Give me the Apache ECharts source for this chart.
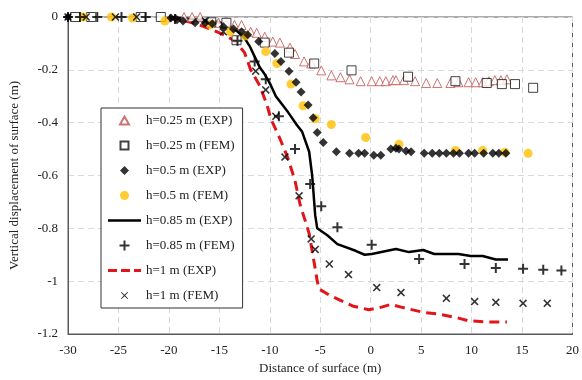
<!DOCTYPE html>
<html>
<head>
<meta charset="utf-8">
<script src="https://cdn.jsdelivr.net/npm/echarts@6/dist/echarts.min.js"></script>
<style>
  html, body { margin: 0; padding: 0; background: #fff; }
  #chart { width: 582px; height: 380px; }
</style>
</head>
<body>
<div id="chart"></div>
<script>
// x: distance of surface (m), y: vertical displacement (m)
const xTicks = [-30, -25, -20, -15, -10, -5, 0, 5, 10, 15, 20];
const yTicks = [0, -0.2, -0.4, -0.6, -0.8, -1, -1.2];

const h025Exp = [
  [-18.5, 0], [-17.7, 0], [-16.9, 0], [-15.1, -0.022], [-14.3, -0.026], [-13.5, -0.03],
  [-12.8, -0.03], [-11.9, -0.056], [-11.3, -0.06], [-10.5, -0.075], [-9.7, -0.093],
  [-9.0, -0.097], [-8.0, -0.116], [-7.5, -0.14], [-6.6, -0.168], [-5.9, -0.176],
  [-4.9, -0.202], [-3.9, -0.221], [-3.0, -0.228], [-2.1, -0.236], [-1.0, -0.243],
  [0.1, -0.243], [0.9, -0.243], [1.5, -0.243], [2.2, -0.239], [2.5, -0.239],
  [3.3, -0.239], [4.4, -0.243], [5.5, -0.25], [6.6, -0.25], [7.9, -0.25],
  [8.7, -0.247], [9.7, -0.247], [10.4, -0.247], [11.1, -0.247], [11.7, -0.243],
  [12.3, -0.239], [12.9, -0.239], [13.5, -0.236]
];
const h025Fem = [
  [-29.3, 0], [-27.7, 0], [-22.8, 0], [-20.8, 0], [-15.8, -0.02], [-14.3, -0.022],
  [-13.3, -0.088], [-10.5, -0.097], [-8.1, -0.135], [-5.6, -0.176], [-1.9, -0.202],
  [3.7, -0.226], [8.4, -0.243], [11.5, -0.25], [13.0, -0.254], [14.3, -0.254], [16.1, -0.268]
];
const h05Exp = [
  [-30, 0], [-19.8, -0.004], [-19.2, -0.01], [-18.6, -0.015], [-17.4, -0.022], [-16.4, -0.022],
  [-15.7, -0.026], [-14.6, -0.037], [-13.6, -0.045], [-12.8, -0.056], [-12.2, -0.067],
  [-11.1, -0.093], [-9.5, -0.138], [-8.9, -0.168], [-8.1, -0.205], [-7.4, -0.247],
  [-6.9, -0.284], [-6.2, -0.333], [-5.7, -0.381], [-5.3, -0.437], [-4.7, -0.475],
  [-3.4, -0.51], [-2.1, -0.516], [-1.2, -0.516], [-0.6, -0.516], [0.3, -0.523], [1.0, -0.523],
  [2.0, -0.5], [2.5, -0.497], [2.8, -0.5], [3.5, -0.507], [4.0, -0.51], [5.3, -0.516],
  [6.1, -0.516], [6.8, -0.516], [7.5, -0.516], [8.2, -0.516], [8.8, -0.516], [9.7, -0.516],
  [10.3, -0.516], [11.2, -0.516], [12.1, -0.516], [12.7, -0.516], [13.4, -0.516]
];
const h05Fem = [
  [-28.5, 0], [-25.7, 0], [-23.6, -0.004], [-20.4, -0.015], [-15.9, -0.03], [-13.9, -0.056],
  [-12.4, -0.071], [-10.4, -0.131], [-9.3, -0.176], [-7.9, -0.254], [-6.7, -0.336],
  [-5.5, -0.385], [-3.9, -0.407], [-0.5, -0.456], [2.8, -0.482], [8.4, -0.505],
  [11.1, -0.505], [13.3, -0.512], [15.6, -0.516]
];
const h085Exp = [
  [-20, 0], [-17, -0.01], [-15, -0.02], [-14, -0.035], [-13.2, -0.055], [-12.5, -0.08],
  [-12, -0.11], [-11.5, -0.15], [-11, -0.19], [-10.5, -0.217], [-9.9, -0.258], [-9.4, -0.3],
  [-8.2, -0.36], [-7.3, -0.41], [-6.8, -0.434], [-6.1, -0.51], [-5.8, -0.6], [-5.5, -0.75],
  [-5.3, -0.8], [-4.3, -0.826], [-3.3, -0.86], [-1.5, -0.885], [-0.6, -0.9], [0.1, -0.897],
  [2.5, -0.878], [3.8, -0.89], [5.2, -0.882], [6.3, -0.897], [8.7, -0.897], [9.9, -0.905],
  [11.1, -0.905], [12.4, -0.918], [13.6, -0.918]
];
const h085Fem = [
  [-30, 0], [-28.8, 0], [-27.1, 0], [-24.7, 0], [-22.3, 0], [-19.4, -0.008],
  [-13.2, -0.09], [-11.5, -0.168], [-10.4, -0.236], [-9.1, -0.376], [-7.5, -0.5],
  [-6.0, -0.632], [-4.9, -0.716], [-3.3, -0.796], [0.1, -0.862], [4.8, -0.916],
  [9.3, -0.935], [12.4, -0.95], [15.1, -0.953], [17.1, -0.957], [18.9, -0.96]
];
const h1Exp = [
  [-20, 0], [-18.3, -0.015], [-17, -0.03], [-15.6, -0.05], [-14.4, -0.07], [-13.4, -0.093],
  [-12.5, -0.135], [-11.9, -0.2], [-11, -0.26], [-10.3, -0.33], [-9.9, -0.385], [-9, -0.46],
  [-8.2, -0.535], [-7.5, -0.62], [-7, -0.71], [-6.5, -0.77], [-6.1, -0.82], [-5.6, -0.93],
  [-5.3, -1.0], [-5.1, -1.03], [-4.0, -1.055], [-1.7, -1.095], [-0.2, -1.108], [0.9, -1.1],
  [2.0, -1.088], [3.2, -1.1], [5.2, -1.118], [6.8, -1.125], [8.7, -1.14], [9.7, -1.15],
  [11.7, -1.155], [13.5, -1.155]
];
const h1Fem = [
  [-30, 0], [-28.2, 0], [-25.3, 0], [-23.2, 0], [-19.6, -0.004], [-16.4, -0.015],
  [-14.6, -0.056], [-11.4, -0.205], [-10.4, -0.276], [-9.4, -0.376], [-8.5, -0.53],
  [-7.1, -0.677], [-5.9, -0.84], [-5.5, -0.88], [-4.1, -0.935], [-2.2, -0.975],
  [0.6, -1.024], [3.0, -1.043], [7.5, -1.065], [10.3, -1.077], [12.4, -1.08],
  [15.1, -1.084], [17.5, -1.084]
];

const serif = '"Liberation Serif", "DejaVu Serif", serif';
const plusPath = 'path://M4,0h2v4h4v2h-4v4h-2v-4h-4v-2h4z';
const xPath = 'path://M1.4,0L5,3.6L8.6,0L10,1.4L6.4,5L10,8.6L8.6,10L5,6.4L1.4,10L0,8.6L3.6,5L0,1.4z';

// legend icons drawn inside a 33 x 10 box (two tiny corner points fix the box)
const box = 'path://M0,0h0.01M33,10h-0.01';
const iconTri = box + 'M16.5,1L21,9H12z';
const iconRect = box + 'M12.5,1h8v8h-8z';
const iconDiamond = box + 'M16.5,0.5L21,5L16.5,9.5L12,5z';
const iconCircle = box + 'M16.5,0.5A4.5,4.5 0 1 1 16.49,0.5z';
const iconPlus = box + 'M15.5,0h2v4h4v2h-4v4h-2v-4h-4v-2h4z';
const iconX = box + 'M13.6,1.4L16.5,4.3L19.4,1.4L20.1,2.1L17.2,5L20.1,7.9L19.4,8.6L16.5,5.7L13.6,8.6L12.9,7.9L15.8,5L12.9,2.1z';

const chart = echarts.init(document.getElementById('chart'));

const option = {
  animation: false,
  textStyle: { fontFamily: serif },
  grid: {
    left: 67, right: 5, top: 17, bottom: 42,
    show: true, borderColor: '#595959', borderWidth: 1
  },
  legend: {
    orient: 'vertical',
    left: 101, top: 108,
    padding: [6, 8, 6, 6],
    itemWidth: 33, itemHeight: 10, itemGap: 12,
    backgroundColor: '#fff',
    borderColor: '#333', borderWidth: 1,
    textStyle: { fontFamily: serif, fontSize: 13, color: '#222' },
    data: [
      { name: 'h=0.25 m (EXP)', icon: iconTri },
      { name: 'h=0.25 m (FEM)', icon: iconRect },
      { name: 'h=0.5 m (EXP)', icon: iconDiamond },
      { name: 'h=0.5 m (FEM)', icon: iconCircle },
      { name: 'h=0.85 m (EXP)', icon: box + 'M0,3.8h33v2.5h-33z' },
      { name: 'h=0.85 m (FEM)', icon: iconPlus },
      { name: 'h=1 m (EXP)', icon: box + 'M0,3.5h9v3h-9zM13,3.5h9v3h-9zM26,3.5h7v3h-7z' },
      { name: 'h=1 m (FEM)', icon: iconX }
    ]
  },
  xAxis: {
    type: 'value', min: -30, max: 20, interval: 5,
    axisLine: { onZero: false, lineStyle: { color: '#595959' } },
    axisTick: { show: false },
    axisLabel: { fontFamily: serif, fontSize: 13, color: '#222', margin: 10 },
    splitLine: { lineStyle: { color: '#d9d9d9', type: [6, 4] } },
    name: 'Distance of surface (m)', nameLocation: 'middle', nameGap: 28,
    nameTextStyle: { fontFamily: serif, fontSize: 13, color: '#222' }
  },
  yAxis: {
    type: 'value', min: -1.2, max: 0, interval: 0.2,
    axisLine: { onZero: false, lineStyle: { color: '#595959' } },
    axisTick: { show: false },
    axisLabel: { fontFamily: serif, fontSize: 13, color: '#222', margin: 10,
      formatter: v => yTicks.includes(+v.toFixed(1)) ? String(+v.toFixed(1)) : '' },
    splitLine: { lineStyle: { color: '#d9d9d9', type: [6, 4] } },
    name: 'Vertical displacement of surface (m)', nameLocation: 'middle', nameGap: 47,
    nameTextStyle: { fontFamily: serif, fontSize: 13, color: '#222' }
  },
  series: [
    {
      name: 'h=0.85 m (EXP)', type: 'line', data: h085Exp, symbol: 'none',
      lineStyle: { color: '#000', width: 2.5 }, itemStyle: { color: '#000' }, z: 2
    },
    {
      name: 'h=1 m (EXP)', type: 'line', data: h1Exp, symbol: 'none',
      lineStyle: { color: '#e0161b', width: 3, type: [10, 6] }, itemStyle: { color: '#e0161b' }, z: 2
    },
    {
      name: 'h=0.25 m (EXP)', type: 'scatter', data: h025Exp, symbol: 'triangle', symbolSize: 9,
      itemStyle: { color: '#fff', borderColor: '#c0504d', borderWidth: 1 }, z: 3
    },
    {
      name: 'h=0.25 m (FEM)', type: 'scatter', data: h025Fem, symbol: 'rect', symbolSize: 9,
      itemStyle: { color: '#fff', borderColor: '#111', borderWidth: 1 }, z: 3
    },
    {
      name: 'h=0.5 m (EXP)', type: 'scatter', data: h05Exp, symbol: 'diamond', symbolSize: 9,
      itemStyle: { color: '#000' }, z: 4
    },
    {
      name: 'h=0.5 m (FEM)', type: 'scatter', data: h05Fem, symbol: 'circle', symbolSize: 9,
      itemStyle: { color: '#ffc000' }, z: 3
    },
    {
      name: 'h=0.85 m (FEM)', type: 'scatter', data: h085Fem, symbol: plusPath, symbolSize: 10,
      itemStyle: { color: '#000' }, z: 4
    },
    {
      name: 'h=1 m (FEM)', type: 'scatter', data: h1Fem, symbol: xPath, symbolSize: 8,
      itemStyle: { color: '#000' }, z: 4
    }
  ]
};

chart.setOption(option);
</script>
</body>
</html>
